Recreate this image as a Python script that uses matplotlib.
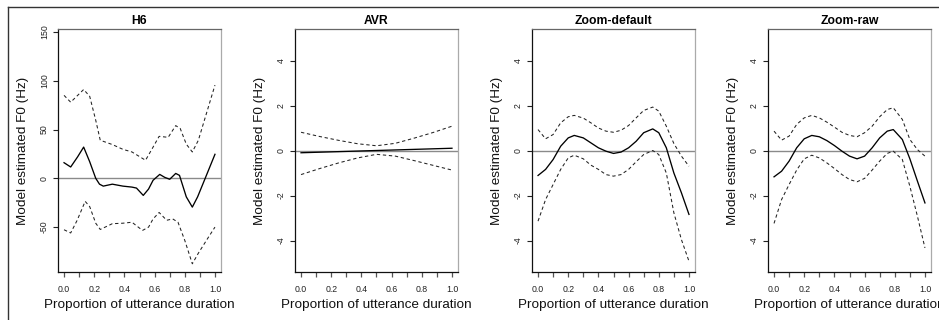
import matplotlib
matplotlib.use("Agg")
import matplotlib.pyplot as plt
from matplotlib.lines import Line2D

plt.rcParams['font.family'] = ['Liberation Sans', 'DejaVu Sans']
plt.rcParams['axes.unicode_minus'] = False

# ---------------- data ----------------
titles = ["H6", "AVR", "Zoom-default", "Zoom-raw"]
xlabel = "Proportion of utterance duration"
ylabel = "Model estimated F0 (Hz)"
xtick_vals = [0.0, 0.1, 0.2, 0.3, 0.4, 0.5, 0.6, 0.7, 0.8, 0.9, 1.0]
xtick_labels = ["0.0", "", "0.2", "", "0.4", "", "0.6", "", "0.8", "", "1.0"]
h6_yticks = [-50, 0, 50, 100, 150]
small_yticks = [-4, -2, 0, 2, 4]

# H6
h6_fit_x = [0, 0.044, 0.09, 0.13, 0.17, 0.21, 0.235, 0.26, 0.32, 0.39, 0.45, 0.48,
            0.525, 0.56, 0.59, 0.634, 0.667, 0.70, 0.74, 0.765, 0.81, 0.85, 0.885,
            0.93, 1.0]
h6_fit = [16, 11.6, 22, 32, 17, 0, -6, -8, -6, -8, -9, -10,
          -17.5, -11, -2, 4, 1, -1, 5, 3, -19, -29.5, -19, -2, 24.6]
h6_up_x = [0, 0.044, 0.13, 0.17, 0.21, 0.24, 0.32, 0.39, 0.45, 0.54, 0.59, 0.63,
           0.69, 0.74, 0.77, 0.81, 0.85, 0.89, 0.94, 1.0]
h6_up = [85, 78, 91, 84, 59.5, 39, 34.6, 29.7, 27, 18.5, 32, 43,
         42, 54, 51, 35, 27, 39, 64.7, 95.5]
h6_lo_x = [0, 0.044, 0.087, 0.14, 0.17, 0.21, 0.24, 0.32, 0.39, 0.45, 0.52, 0.56,
           0.59, 0.63, 0.68, 0.72, 0.755, 0.8, 0.85, 0.89, 0.95, 1.0]
h6_lo = [-52.7, -56, -43, -23.6, -29, -46, -52.4, -46.5, -46, -45, -53.4, -50,
         -41.6, -35, -43, -41.6, -45, -63.6, -87.6, -76.7, -62, -50]

# AVR
avr_x = [0, 0.125, 0.25, 0.375, 0.5, 0.625, 0.75, 0.875, 1.0]
avr_fit = [-0.1, -0.075, -0.05, -0.025, 0.0, 0.025, 0.05, 0.075, 0.1]
avr_up = [0.81, 0.62, 0.45, 0.3, 0.21, 0.32, 0.55, 0.8, 1.08]
avr_lo = [-1.07, -0.8, -0.55, -0.33, -0.17, -0.25, -0.45, -0.66, -0.87]

# Zoom-default
zd_x = [0, 0.05, 0.1, 0.15, 0.2, 0.24, 0.3, 0.35, 0.4, 0.45, 0.5, 0.55, 0.6,
        0.65, 0.7, 0.76, 0.8, 0.85, 0.9, 0.95, 1.0]
zd_fit = [-1.11, -0.84, -0.4, 0.19, 0.56, 0.67, 0.56, 0.34, 0.12, -0.03, -0.13,
          -0.07, 0.12, 0.41, 0.79, 0.96, 0.79, 0.12, -1.0, -1.88, -2.84]
zd_up = [0.93, 0.52, 0.71, 1.23, 1.5, 1.56, 1.44, 1.23, 1.0, 0.86, 0.81, 0.9,
         1.11, 1.45, 1.78, 1.93, 1.75, 1.08, 0.31, -0.25, -0.7]
zd_lo = [-3.14, -2.18, -1.51, -0.84, -0.33, -0.21, -0.37, -0.65, -0.84, -1.07,
         -1.14, -1.07, -0.84, -0.5, -0.18, 0.0, -0.18, -1.0, -2.77, -3.96, -4.92]

# Zoom-raw
zr_x = [0, 0.05, 0.1, 0.15, 0.2, 0.25, 0.3, 0.35, 0.4, 0.45, 0.5, 0.55, 0.6,
        0.65, 0.7, 0.75, 0.79, 0.85, 0.9, 0.95, 1.0]
zr_fit = [-1.17, -0.92, -0.47, 0.12, 0.52, 0.67, 0.61, 0.44, 0.22, -0.03, -0.25,
          -0.37, -0.25, 0.12, 0.56, 0.86, 0.93, 0.49, -0.37, -1.36, -2.33]
zr_up = [0.86, 0.46, 0.64, 1.16, 1.45, 1.56, 1.45, 1.26, 1.04, 0.81, 0.67, 0.61,
         0.79, 1.08, 1.5, 1.82, 1.9, 1.38, 0.49, 0.04, -0.25]
zr_lo = [-3.24, -2.18, -1.51, -0.87, -0.37, -0.21, -0.33, -0.55, -0.8, -1.07,
         -1.29, -1.39, -1.24, -0.87, -0.47, -0.13, -0.03, -0.4, -1.59, -2.92, -4.33]

panels = [
    dict(fit=(h6_fit_x, h6_fit), up=(h6_up_x, h6_up), lo=(h6_lo_x, h6_lo),
         ylim=(-96, 153), yticks=h6_yticks),
    dict(fit=(avr_x, avr_fit), up=(avr_x, avr_up), lo=(avr_x, avr_lo),
         ylim=(-5.4, 5.4), yticks=small_yticks),
    dict(fit=(zd_x, zd_fit), up=(zd_x, zd_up), lo=(zd_x, zd_lo),
         ylim=(-5.4, 5.4), yticks=small_yticks),
    dict(fit=(zr_x, zr_fit), up=(zr_x, zr_up), lo=(zr_x, zr_lo),
         ylim=(-5.4, 5.4), yticks=small_yticks),
]

# ---------------- layout ----------------
W, H = 939, 320
fig = plt.figure(figsize=(W / 100, H / 100), dpi=100)
fig.patch.set_facecolor('white')

# outer frame (cropped figure border)
fig.add_artist(Line2D([7.5 / W, 1.0], [1 - 7 / H, 1 - 7 / H], transform=fig.transFigure,
                      color='#333333', lw=1.0))
fig.add_artist(Line2D([7.5 / W, 7.5 / W], [0, 1 - 7 / H], transform=fig.transFigure,
                      color='#333333', lw=1.0))

lefts = [58, 295, 532, 768]
ax_w, ax_top, ax_bot = 163, 29, 272

for i, p in enumerate(panels):
    ax = fig.add_axes([lefts[i] / W, 1 - ax_bot / H, ax_w / W, (ax_bot - ax_top) / H])
    ax.axhline(0, color='#8a8a8a', lw=1.0, zorder=1)
    ax.plot(*p['fit'], color='black', lw=0.95, zorder=3)
    ax.plot(*p['up'], color='#222222', lw=0.75, dashes=(3.2, 2.6), zorder=2)
    ax.plot(*p['lo'], color='#222222', lw=0.75, dashes=(3.2, 2.6), zorder=2)
    ax.set_xlim(-0.04, 1.04)
    ax.set_ylim(*p['ylim'])
    ax.set_xticks(xtick_vals)
    ax.set_xticklabels(xtick_labels)
    ax.set_yticks(p['yticks'])
    ax.set_yticklabels([str(v) for v in p['yticks']], rotation=90, va='center')
    ax.tick_params(axis='x', length=3.5, width=0.9, color='#555555', pad=6.0,
                   labelsize=6.3, labelcolor='#222222')
    ax.tick_params(axis='y', length=3.5, width=0.8, color='#222222', pad=3,
                   labelsize=6.3, labelcolor='#222222')
    ax.spines['left'].set_color('#111111')
    ax.spines['bottom'].set_color('#111111')
    ax.spines['top'].set_color('#666666')
    ax.spines['right'].set_color('#aaaaaa')
    for s in ax.spines.values():
        s.set_linewidth(0.9)
    ax.set_title(titles[i], fontsize=8.7, fontweight='bold', pad=3.5)
    ax.set_xlabel(xlabel, fontsize=9.7, color='#111111')
    ax.xaxis.set_label_coords(0.5, -0.11)
    ax.set_ylabel(ylabel, fontsize=9.7, color='#111111')
    ax.yaxis.set_label_coords(-0.175, 0.5)

fig.savefig('out.png', dpi=100, facecolor='white')
